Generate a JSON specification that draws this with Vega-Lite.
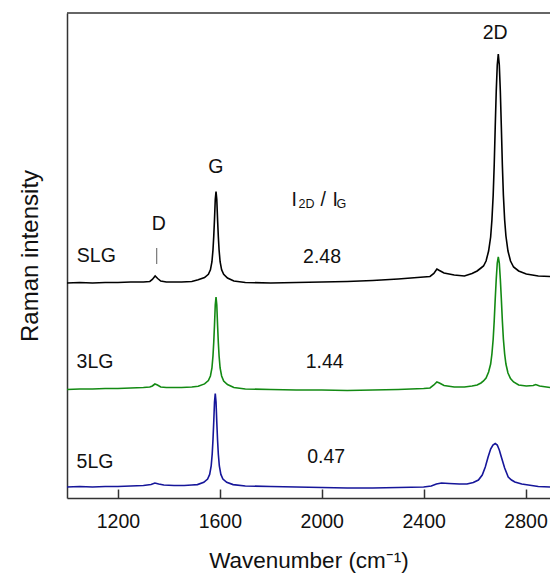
{
 "$schema": "https://vega.github.io/schema/vega-lite/v6.json",
 "width": 483,
 "height": 485,
 "autosize": "none",
 "padding": {"left": 67, "top": 13, "right": 0, "bottom": 79},
 "background": "white",
 "config": {"view": {"stroke": null}, "font": "Liberation Sans"},
 "datasets": {
  "frame": [{"i": 485}],
  "dmark": [{"w": 1352, "i": 250, "i2": 234}],
  "labels": [
   {"w": 1115, "i": 236.3, "t": "SLG"},
   {"w": 1110, "i": 129.7, "t": "3LG"},
   {"w": 1110, "i": 30.3, "t": "5LG"},
   {"w": 1584, "i": 325.3, "t": "G"},
   {"w": 1360, "i": 268, "t": "D"},
   {"w": 2681, "i": 458.7, "t": "2D"},
   {"w": 2001, "i": 234.7, "t": "2.48"},
   {"w": 2011.5, "i": 130.3, "t": "1.44"},
   {"w": 2017.5, "i": 35.3, "t": "0.47"}
  ],
  "ratiomain": [
   {"w": 1881, "i": 292, "t": "I"},
   {"w": 1995, "i": 292, "t": "/"},
   {"w": 2042, "i": 292, "t": "I"}
  ],
  "ratiosub": [
   {"w": 1909, "i": 289.7, "t": "2D"},
   {"w": 2058, "i": 289.7, "t": "G"}
  ],
  "spectra": [
   {"s":"SLG","w":1000,"i":215},{"s":"SLG","w":1050,"i":215.5},{"s":"SLG","w":1100,"i":215},{"s":"SLG","w":1150,"i":215.5},
   {"s":"SLG","w":1200,"i":215.5},{"s":"SLG","w":1250,"i":216},{"s":"SLG","w":1300,"i":216},{"s":"SLG","w":1325,"i":216.5},
   {"s":"SLG","w":1335,"i":218.5},{"s":"SLG","w":1346,"i":222},{"s":"SLG","w":1356,"i":219.5},{"s":"SLG","w":1368,"i":217},
   {"s":"SLG","w":1390,"i":216},{"s":"SLG","w":1450,"i":216},{"s":"SLG","w":1490,"i":216.5},{"s":"SLG","w":1515,"i":218.3},
   {"s":"SLG","w":1540,"i":220.5},{"s":"SLG","w":1555,"i":223.7},{"s":"SLG","w":1563,"i":228.2},{"s":"SLG","w":1569,"i":236.3},
   {"s":"SLG","w":1573,"i":248},{"s":"SLG","w":1576,"i":261.5},{"s":"SLG","w":1579,"i":278.6},{"s":"SLG","w":1582,"i":298.4},
   {"s":"SLG","w":1585,"i":306.5},{"s":"SLG","w":1588,"i":298.4},{"s":"SLG","w":1591,"i":278.6},{"s":"SLG","w":1594,"i":261.5},
   {"s":"SLG","w":1597,"i":248},{"s":"SLG","w":1601,"i":236.3},{"s":"SLG","w":1607,"i":228.2},{"s":"SLG","w":1615,"i":223.7},
   {"s":"SLG","w":1630,"i":220},{"s":"SLG","w":1655,"i":217},{"s":"SLG","w":1700,"i":215.5},{"s":"SLG","w":1800,"i":215},
   {"s":"SLG","w":1900,"i":215.5},{"s":"SLG","w":2000,"i":216},{"s":"SLG","w":2100,"i":216.5},{"s":"SLG","w":2200,"i":217.5},
   {"s":"SLG","w":2300,"i":219},{"s":"SLG","w":2400,"i":221},{"s":"SLG","w":2425,"i":221.5},{"s":"SLG","w":2440,"i":224.5},
   {"s":"SLG","w":2452,"i":229},{"s":"SLG","w":2462,"i":227.5},{"s":"SLG","w":2480,"i":225},{"s":"SLG","w":2520,"i":223},
   {"s":"SLG","w":2560,"i":222},{"s":"SLG","w":2590,"i":224.5},{"s":"SLG","w":2610,"i":227},{"s":"SLG","w":2625,"i":230},
   {"s":"SLG","w":2635,"i":232},{"s":"SLG","w":2645,"i":237},{"s":"SLG","w":2655,"i":247},{"s":"SLG","w":2663,"i":261},
   {"s":"SLG","w":2668,"i":278},{"s":"SLG","w":2673,"i":303},{"s":"SLG","w":2677,"i":333},{"s":"SLG","w":2681,"i":371},
   {"s":"SLG","w":2685,"i":407},{"s":"SLG","w":2689,"i":433},{"s":"SLG","w":2693,"i":444},{"s":"SLG","w":2697,"i":433},
   {"s":"SLG","w":2701,"i":407},{"s":"SLG","w":2705,"i":371},{"s":"SLG","w":2709,"i":333},{"s":"SLG","w":2713,"i":303},
   {"s":"SLG","w":2718,"i":278},{"s":"SLG","w":2723,"i":262},{"s":"SLG","w":2731,"i":247},{"s":"SLG","w":2741,"i":237},
   {"s":"SLG","w":2753,"i":231},{"s":"SLG","w":2773,"i":227},{"s":"SLG","w":2803,"i":224},{"s":"SLG","w":2850,"i":222},
   {"s":"SLG","w":2896,"i":221.5},

   {"s":"3LG","w":1000,"i":108.5},{"s":"3LG","w":1050,"i":109},{"s":"3LG","w":1100,"i":109},{"s":"3LG","w":1150,"i":109.5},
   {"s":"3LG","w":1200,"i":109.5},{"s":"3LG","w":1250,"i":110},{"s":"3LG","w":1300,"i":110.5},{"s":"3LG","w":1325,"i":111},
   {"s":"3LG","w":1335,"i":112},{"s":"3LG","w":1345,"i":114},{"s":"3LG","w":1355,"i":113},{"s":"3LG","w":1368,"i":111},
   {"s":"3LG","w":1390,"i":110.5},{"s":"3LG","w":1450,"i":110.5},{"s":"3LG","w":1490,"i":111},{"s":"3LG","w":1515,"i":111.8},
   {"s":"3LG","w":1540,"i":114.1},{"s":"3LG","w":1555,"i":117.4},{"s":"3LG","w":1563,"i":122},{"s":"3LG","w":1569,"i":130},
   {"s":"3LG","w":1573,"i":142},{"s":"3LG","w":1576,"i":155.5},{"s":"3LG","w":1579,"i":173},{"s":"3LG","w":1582,"i":193},
   {"s":"3LG","w":1585,"i":201},{"s":"3LG","w":1588,"i":193},{"s":"3LG","w":1591,"i":173},{"s":"3LG","w":1594,"i":155.5},
   {"s":"3LG","w":1597,"i":142},{"s":"3LG","w":1601,"i":130},{"s":"3LG","w":1607,"i":122},{"s":"3LG","w":1615,"i":117},
   {"s":"3LG","w":1630,"i":113.5},{"s":"3LG","w":1655,"i":110.5},{"s":"3LG","w":1700,"i":109},{"s":"3LG","w":1800,"i":108.5},
   {"s":"3LG","w":1900,"i":108},{"s":"3LG","w":2000,"i":108},{"s":"3LG","w":2100,"i":107.5},{"s":"3LG","w":2200,"i":108},
   {"s":"3LG","w":2300,"i":108.5},{"s":"3LG","w":2400,"i":109.5},{"s":"3LG","w":2425,"i":110},{"s":"3LG","w":2440,"i":113},
   {"s":"3LG","w":2452,"i":116},{"s":"3LG","w":2462,"i":115},{"s":"3LG","w":2480,"i":112.5},{"s":"3LG","w":2520,"i":111},
   {"s":"3LG","w":2560,"i":111},{"s":"3LG","w":2590,"i":112},{"s":"3LG","w":2610,"i":113},{"s":"3LG","w":2625,"i":115},
   {"s":"3LG","w":2635,"i":117},{"s":"3LG","w":2645,"i":120},{"s":"3LG","w":2655,"i":126},{"s":"3LG","w":2663,"i":134},
   {"s":"3LG","w":2668,"i":144},{"s":"3LG","w":2673,"i":159},{"s":"3LG","w":2677,"i":177},{"s":"3LG","w":2681,"i":199},
   {"s":"3LG","w":2685,"i":219},{"s":"3LG","w":2689,"i":235},{"s":"3LG","w":2693,"i":241},{"s":"3LG","w":2697,"i":235},
   {"s":"3LG","w":2701,"i":219},{"s":"3LG","w":2705,"i":199},{"s":"3LG","w":2709,"i":177},{"s":"3LG","w":2713,"i":159},
   {"s":"3LG","w":2718,"i":144},{"s":"3LG","w":2723,"i":134},{"s":"3LG","w":2731,"i":125},{"s":"3LG","w":2741,"i":119.5},
   {"s":"3LG","w":2753,"i":116},{"s":"3LG","w":2773,"i":113},{"s":"3LG","w":2803,"i":112},{"s":"3LG","w":2830,"i":112.5},
   {"s":"3LG","w":2840,"i":113.5},{"s":"3LG","w":2855,"i":112},{"s":"3LG","w":2896,"i":110.5},

   {"s":"5LG","w":1000,"i":11},{"s":"5LG","w":1050,"i":11.5},{"s":"5LG","w":1100,"i":11},{"s":"5LG","w":1150,"i":11.5},
   {"s":"5LG","w":1200,"i":11.5},{"s":"5LG","w":1250,"i":12},{"s":"5LG","w":1300,"i":12.5},{"s":"5LG","w":1330,"i":13.5},
   {"s":"5LG","w":1345,"i":15},{"s":"5LG","w":1360,"i":14},{"s":"5LG","w":1380,"i":13},{"s":"5LG","w":1420,"i":12.5},
   {"s":"5LG","w":1460,"i":12.5},{"s":"5LG","w":1490,"i":13},{"s":"5LG","w":1512,"i":13.4},{"s":"5LG","w":1537,"i":15.7},
   {"s":"5LG","w":1552,"i":19},{"s":"5LG","w":1560,"i":23.6},{"s":"5LG","w":1566,"i":32},{"s":"5LG","w":1570,"i":44},
   {"s":"5LG","w":1573,"i":58},{"s":"5LG","w":1576,"i":75.7},{"s":"5LG","w":1579,"i":96},{"s":"5LG","w":1582,"i":104.5},
   {"s":"5LG","w":1585,"i":96},{"s":"5LG","w":1588,"i":75.7},{"s":"5LG","w":1591,"i":58},{"s":"5LG","w":1594,"i":44},
   {"s":"5LG","w":1598,"i":32},{"s":"5LG","w":1604,"i":23.6},{"s":"5LG","w":1612,"i":19},{"s":"5LG","w":1627,"i":15.7},
   {"s":"5LG","w":1652,"i":13.4},{"s":"5LG","w":1700,"i":12},{"s":"5LG","w":1800,"i":11.5},{"s":"5LG","w":1900,"i":11},
   {"s":"5LG","w":2000,"i":10.5},{"s":"5LG","w":2100,"i":10},{"s":"5LG","w":2200,"i":10},{"s":"5LG","w":2300,"i":10.5},
   {"s":"5LG","w":2400,"i":11},{"s":"5LG","w":2430,"i":12},{"s":"5LG","w":2450,"i":14},{"s":"5LG","w":2470,"i":15},
   {"s":"5LG","w":2500,"i":14.5},{"s":"5LG","w":2540,"i":14},{"s":"5LG","w":2570,"i":14},{"s":"5LG","w":2595,"i":15.5},
   {"s":"5LG","w":2615,"i":18},{"s":"5LG","w":2630,"i":23},{"s":"5LG","w":2642,"i":31},{"s":"5LG","w":2653,"i":41},
   {"s":"5LG","w":2663,"i":49},{"s":"5LG","w":2672,"i":53},{"s":"5LG","w":2681,"i":54.5},{"s":"5LG","w":2689,"i":53},
   {"s":"5LG","w":2697,"i":48},{"s":"5LG","w":2705,"i":41},{"s":"5LG","w":2718,"i":30},{"s":"5LG","w":2732,"i":21},
   {"s":"5LG","w":2745,"i":18},{"s":"5LG","w":2758,"i":16},{"s":"5LG","w":2785,"i":14},{"s":"5LG","w":2811,"i":13},
   {"s":"5LG","w":2850,"i":11.5},{"s":"5LG","w":2896,"i":11}
  ]
 },
 "layer": [
  {
   "data": {"name": "spectra"},
   "mark": {"type": "line", "strokeWidth": 1.6, "clip": true},
   "encoding": {
    "x": {"field": "w", "type": "quantitative",
     "scale": {"domain": [1000, 2896], "nice": false, "zero": false},
     "axis": {"title": "Wavenumber (cm⁻¹)", "values": [1200, 1600, 2000, 2400, 2800], "format": "d", "grid": false,
      "tickSize": -9, "tickColor": "#333", "tickWidth": 1.5, "domainColor": "#333", "domainWidth": 1.5,
      "labelFontSize": 19.5, "labelColor": "#111", "labelPadding": 23, "labelFlush": false, "labelOverlap": false,
      "titleFontSize": 22.5, "titleFontWeight": "normal", "titleColor": "#111", "titlePadding": 19}},
    "y": {"field": "i", "type": "quantitative",
     "scale": {"domain": [0, 485], "nice": false, "zero": false},
     "axis": {"title": "Raman intensity", "ticks": false, "labels": false, "grid": false,
      "domainColor": "#333", "domainWidth": 1.5,
      "titleFontSize": 24, "titleFontWeight": "normal", "titleColor": "#111", "titlePadding": 25}},
    "color": {"field": "s", "type": "nominal",
     "scale": {"domain": ["SLG", "3LG", "5LG"], "range": ["#000000", "#138a13", "#16169a"]},
     "legend": null}
   }
  },
  {
   "data": {"name": "frame"},
   "mark": {"type": "rule", "color": "#333", "strokeWidth": 1.5},
   "encoding": {"y": {"field": "i", "type": "quantitative"}}
  },
  {
   "data": {"name": "dmark"},
   "mark": {"type": "rule", "color": "#777", "strokeWidth": 1.2},
   "encoding": {
    "x": {"field": "w", "type": "quantitative"},
    "y": {"field": "i", "type": "quantitative"},
    "y2": {"field": "i2"}
   }
  },
  {
   "data": {"name": "labels"},
   "mark": {"type": "text", "fontSize": 19.5, "align": "center", "baseline": "alphabetic", "color": "#111"},
   "encoding": {
    "x": {"field": "w", "type": "quantitative"},
    "y": {"field": "i", "type": "quantitative"},
    "text": {"field": "t"}
   }
  },
  {
   "data": {"name": "ratiomain"},
   "mark": {"type": "text", "fontSize": 19.5, "align": "left", "baseline": "alphabetic", "color": "#111"},
   "encoding": {
    "x": {"field": "w", "type": "quantitative"},
    "y": {"field": "i", "type": "quantitative"},
    "text": {"field": "t"}
   }
  },
  {
   "data": {"name": "ratiosub"},
   "mark": {"type": "text", "fontSize": 12.5, "align": "left", "baseline": "alphabetic", "color": "#111"},
   "encoding": {
    "x": {"field": "w", "type": "quantitative"},
    "y": {"field": "i", "type": "quantitative"},
    "text": {"field": "t"}
   }
  }
 ]
}
